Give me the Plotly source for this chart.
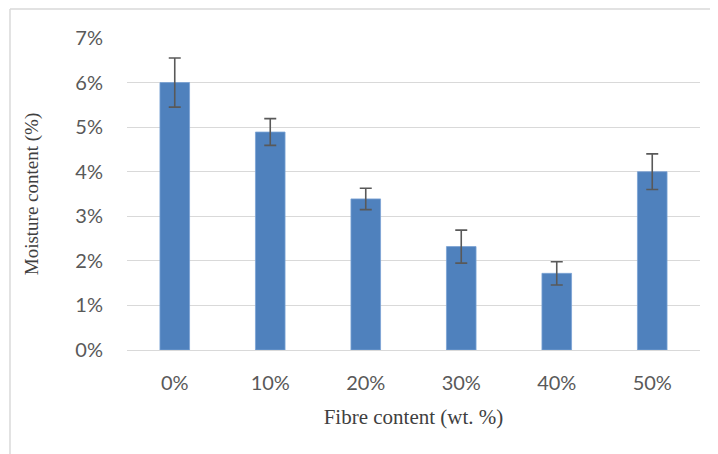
import plotly.graph_objects as go

categories = ["0%", "10%", "20%", "30%", "40%", "50%"]
moisture = [6.0, 4.89, 3.39, 2.32, 1.72, 4.0]
errors = [0.55, 0.30, 0.24, 0.37, 0.26, 0.40]
y_ticks = [0, 1, 2, 3, 4, 5, 6, 7]
y_tick_labels = ["0%", "1%", "2%", "3%", "4%", "5%", "6%", "7%"]

fig = go.Figure()
fig.add_trace(go.Bar(
    x=categories, y=moisture,
    marker=dict(color="#4f81bd", line=dict(color="#7aa2d4", width=0.8)),
    width=0.31,
    error_y=dict(type="data", array=errors, visible=True,
                 color="#595959", thickness=1.6, width=6),
))

fig.update_layout(
    width=710, height=446,
    paper_bgcolor="white", plot_bgcolor="white",
    margin=dict(l=119, r=18, t=30, b=104),
    showlegend=False,
    font=dict(family="Lato", color="#595959", size=20),
    xaxis=dict(
        showgrid=False, showline=False, ticks="", ticklabelstandoff=19,
        tickfont=dict(family="Lato", size=20, color="#595959"),
        title=dict(text="Fibre content (wt. %)", standoff=16,
                   font=dict(family="Liberation Serif", size=21, color="#404040")),
    ),
    yaxis=dict(
        range=[0, 7], tickvals=y_ticks, ticktext=y_tick_labels,
        showgrid=True, gridcolor="#d9d9d9", gridwidth=1.2,
        zeroline=True, zerolinecolor="#d9d9d9", zerolinewidth=1.2,
        showline=False, ticks="", ticklabelstandoff=23,
        tickfont=dict(family="Lato", size=20, color="#595959"),
        title=dict(text="Moisture content (%)", standoff=31,
                   font=dict(family="Liberation Serif", size=19, color="#404040")),
    ),
    shapes=[
        dict(type="line", xref="paper", yref="paper", x0=-0.2042, x1=1.1, y0=1.0929, y1=1.0929,
             line=dict(color="#d9d9d9", width=1.5)),
        dict(type="line", xref="paper", yref="paper", x0=-0.2042, x1=-0.2042, y0=1.0929, y1=-0.4,
             line=dict(color="#d9d9d9", width=1.5)),
    ],
)

fig.write_html("out.html")
